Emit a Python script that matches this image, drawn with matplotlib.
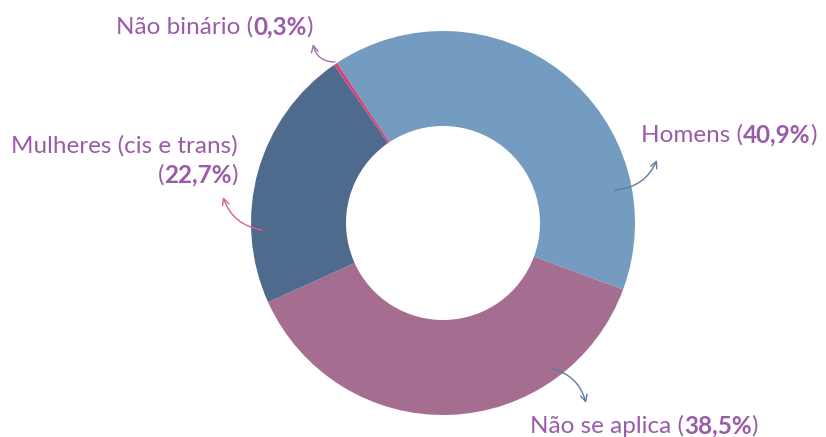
import matplotlib.pyplot as plt

# slice data (clockwise from the top-left boundary)
labels = ["Homens", "Não se aplica", "Mulheres (cis e trans)", "Não binário"]
shares = [40.9, 38.5, 22.7, 0.3]
share_text = ["40,9%", "38,5%", "22,7%", "0,3%"]
colors = ["#739CC0", "#A56E91", "#4E6A8C", "#D6427A"]

TXT = "#9A5CA8"
FS = 17.5
W, H = 826, 437

plt.rcParams["font.family"] = ["Lato", "DejaVu Sans"]

fig = plt.figure(figsize=(W / 100, H / 100), dpi=100)
ax = fig.add_axes([0, 0, 1, 1])

ax.pie(
    shares,
    colors=colors,
    startangle=123.5,
    counterclock=False,
    radius=192,
    center=(443, H - 223),
    wedgeprops=dict(width=95, linewidth=0),
)
ax.set_xlim(0, W)
ax.set_ylim(0, H)
ax.set_aspect("auto")
ax.axis("off")


def rich(x, y, parts, ha="left"):
    # y given in pixel rows from the top
    r = fig.canvas.get_renderer()
    ts = [ax.text(0, H - y, s, fontsize=FS, fontweight=w, color=TXT,
                  va="baseline") for s, w in parts]
    ws = [t.get_window_extent(r).width for t in ts]
    x0 = x - sum(ws) if ha == "right" else x
    for t, w in zip(ts, ws):
        t.set_x(x0)
        x0 += w


def arrow(tail, head, color, rad):
    ax.annotate(
        "", xy=(head[0], H - head[1]), xytext=(tail[0], H - tail[1]),
        arrowprops=dict(arrowstyle="->", color=color, lw=1.0,
                        mutation_scale=12,
                        connectionstyle=f"arc3,rad={rad}",
                        shrinkA=0, shrinkB=0),
    )


rich(641, 142, [(labels[0] + " (", "normal"), (share_text[0], "bold"), (")", "normal")])
rich(530, 433, [(labels[1] + " (", "normal"), (share_text[1], "bold"), (")", "normal")])
rich(238, 153, [(labels[2], "normal")], ha="right")
rich(238, 182, [("(", "normal"), (share_text[2], "bold"), (")", "normal")], ha="right")
rich(116, 34, [(labels[3] + " (", "normal"), (share_text[3], "bold"), (")", "normal")])

arrow((615, 190), (657, 160), "#5D7DA0", 0.3)
arrow((550, 368), (586, 403), "#5D7DA0", -0.3)
arrow((262, 230), (223, 197), "#D9608F", -0.3)
arrow((335, 62), (313, 44), "#A070B0", -0.4)

fig.savefig("out.png", dpi=100)
